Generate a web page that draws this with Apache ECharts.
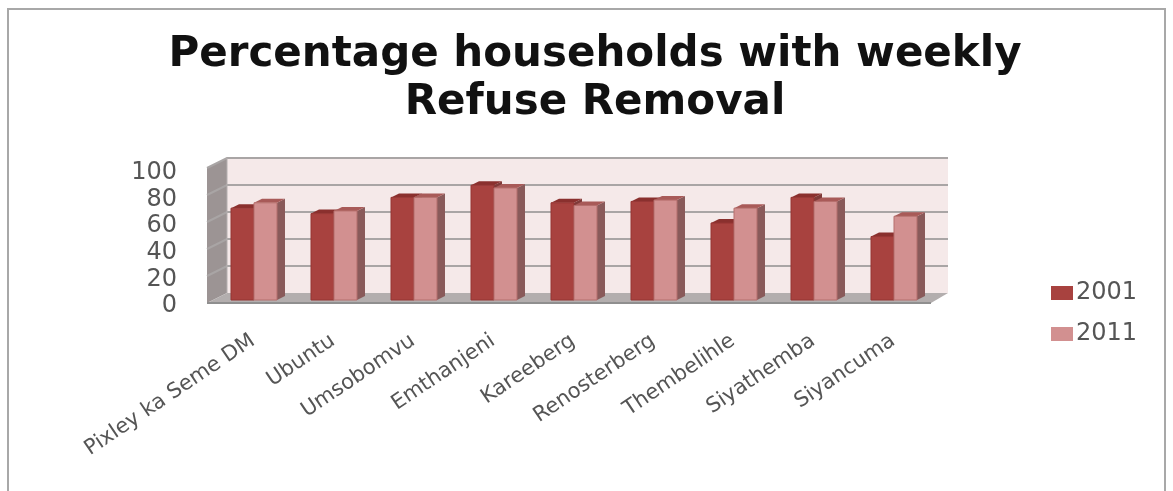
<!DOCTYPE html>
<html><head><meta charset="utf-8">
<style>html,body{margin:0;padding:0;background:#fff}
#frame{position:absolute;left:7px;top:8px;width:1159px;height:490px;border:2px solid #a8a8a8;box-sizing:border-box}
#c{position:absolute;left:0;top:0;width:1173px;height:491px;filter:blur(0.6px)}</style>
<script src="https://cdn.jsdelivr.net/npm/echarts@6/dist/echarts.min.js"></script>
</head><body><div id="frame"></div><div id="c"></div>
<script>
const categories=['Pixley ka Seme DM','Ubuntu','Umsobomvu','Emthanjeni','Kareeberg','Renosterberg','Thembelihle','Siyathemba','Siyancuma'];
const values2001=[68,64,76,85,72,73,57,76,47];
const values2011=[72,66,76,83,70,74,68,73,62];
const yTicks=[0,20,40,60,80,100];
const DX=20,DY=-10;
const chart=echarts.init(document.getElementById('c'),null,{renderer:'canvas'});
function poly(points,fill,stroke){return {type:'polygon',shape:{points},style:{fill,stroke:stroke||fill,lineWidth:stroke?1:0}};}
function walls(params,api){
  const cs=params.coordSys;
  const l=cs.x,r=cs.x+cs.width+4,rb=r+17;
  const y=v=>api.coord([0,v])[1];
  const kids=[];
  const y0=y(0),y100=y(100);
  kids.push(poly([[l+DX,y100+DY],[rb,y100+DY],[rb,y0+DY],[l+DX,y0+DY]],'#f5e9e9'));
  kids.push(poly([[l,y100],[l+DX,y100+DY],[l+DX,y0+DY],[l,y0]],'#9c9494'));
  kids.push(poly([[l,y0],[l+DX,y0+DY],[rb,y0+DY],[r,y0]],'#b3aeae'));
  yTicks.forEach(v=>{
    if(v===0){kids.push({type:'polyline',shape:{points:[[l,y0],[r,y0]]},style:{stroke:'#8f8f8f',lineWidth:2,fill:null}});return;}
    kids.push({type:'polyline',shape:{points:[[l,y(v)],[l+DX,y(v)+DY],[rb,y(v)+DY]]},style:{stroke:'#a9a5a5',lineWidth:2,fill:null}});
  });
  kids.push({type:'polyline',shape:{points:[[l+DX,y0+DY],[l+DX,y100+DY]]},style:{stroke:'#b5b0b0',lineWidth:1,fill:null}});
  return {type:'group',children:kids};
}
const BARW=23;
function bar3d(front,top,side,edge,seriesPos){
  return function(params,api){
    const idx=api.value(0),val=api.value(1);
    const p=api.coord([idx,val]),b=api.coord([idx,0]);
    const ox=7,oy=-3;
    const x0=p[0]+ox+(seriesPos===0?-BARW:0),x1=x0+BARW,yt=p[1]+oy,yb=b[1]+oy;
    const dx=8,dy=-4;
    return {type:'group',children:[
      poly([[x1,yt],[x1+dx,yt+dy],[x1+dx,yb+dy],[x1,yb]],side),
      poly([[x0,yt],[x0+dx,yt+dy],[x1+dx,yt+dy],[x1,yt]],top),
      poly([[x0,yt],[x1,yt],[x1,yb],[x0,yb]],front,edge)
    ]};
  };
}
chart.setOption({
  animation:false,
  backgroundColor:'transparent',
  title:{text:'Percentage households with weekly\nRefuse Removal',left:590,top:26,textAlign:'center',
    textStyle:{fontFamily:'DejaVu Sans',fontWeight:'bold',fontSize:42,lineHeight:48,color:'#111'}},
  legend:{orient:'vertical',left:1046,top:276,itemWidth:22,itemHeight:14,itemGap:17,icon:'rect',
    data:['2001','2011'],textStyle:{fontFamily:'DejaVu Sans',fontSize:24,color:'#555',padding:[0,0,0,-2]}},
  grid:[
    {left:207,top:168,width:720,height:135},
    {left:213,top:173,width:720,height:133}
  ],
  xAxis:[
    {type:'category',gridIndex:0,data:categories,axisLine:{show:false},axisTick:{show:false},axisLabel:{show:false}},
    {type:'category',gridIndex:1,data:categories,axisLine:{show:false},axisTick:{show:false},
      axisLabel:{interval:0,rotate:34,margin:33,fontFamily:'DejaVu Sans',fontSize:21,color:'#555'}}
  ],
  yAxis:[
    {type:'value',gridIndex:0,min:0,max:100,interval:20,axisLine:{show:false},axisTick:{show:false},splitLine:{show:false},axisLabel:{show:false}},
    {type:'value',gridIndex:1,min:0,max:100,interval:20,axisLine:{show:false},axisTick:{show:false},splitLine:{show:false},
      axisLabel:{margin:36,fontFamily:'DejaVu Sans',fontSize:24,color:'#555'}}
  ],
  series:[
    {type:'custom',name:'walls',data:[[0,0]],renderItem:walls,silent:true,z:1,encode:{x:0,y:1},legendHoverLink:false},
    {type:'custom',name:'2001',z:2,itemStyle:{color:'#a8423f'},encode:{x:0,y:1},
      data:values2001.map((v,i)=>[i,v]),renderItem:bar3d('#a8423f','#8a302e','#7f3a38','#953533',0)},
    {type:'custom',name:'2011',z:3,itemStyle:{color:'#d29090'},encode:{x:0,y:1},
      data:values2011.map((v,i)=>[i,v]),renderItem:bar3d('#d29090','#a85a58','#895a5a','#b56e6c',1)}
  ]
});
</script></body></html>
